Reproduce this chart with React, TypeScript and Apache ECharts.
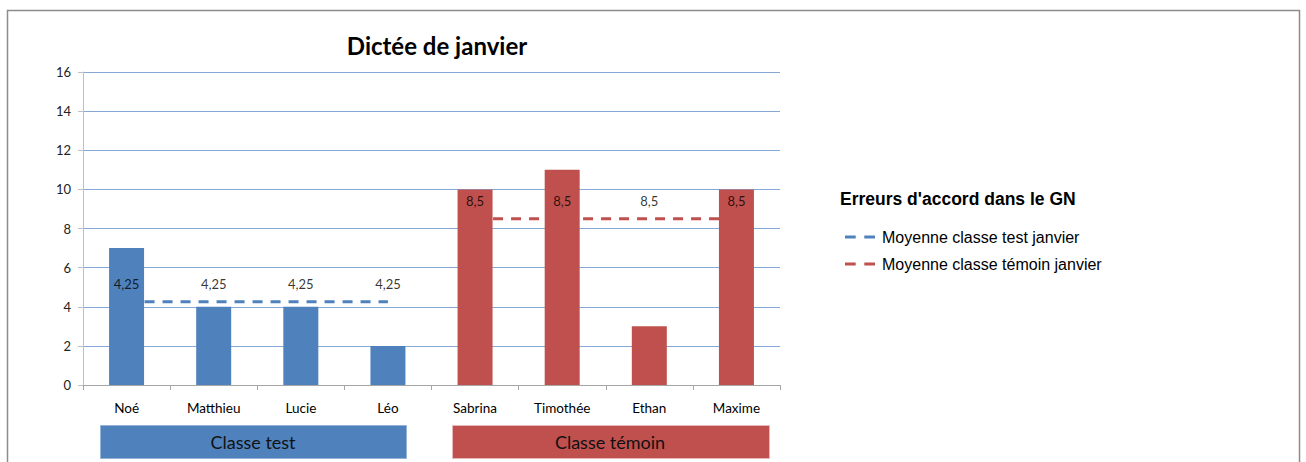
import React, { useEffect, useRef } from "react";
import * as echarts from "echarts";

const categories = ["Noé", "Matthieu", "Lucie", "Léo", "Sabrina", "Timothée", "Ethan", "Maxime"];
const errors = [7, 4, 4, 2, 10, 11, 3, 10];
const groupOf = ["test", "test", "test", "test", "temoin", "temoin", "temoin", "temoin"];
const avgTest = [4.25, 4.25, 4.25, 4.25, null, null, null, null];
const avgTemoin = [null, null, null, null, 8.5, 8.5, 8.5, 8.5];
const yTicks = { min: 0, max: 16, interval: 2 };

const BLUE = "#4F81BD";
const RED = "#C0504D";
const CAL = "Lato, 'Open Sans', sans-serif";
const ARIAL = "'Liberation Sans', Arial, sans-serif";
const DASH_ICON = "path://M0 0H10V3H0Z M18 0H28V3H18Z";

const fmt = (v: number) => String(v).replace(".", ",");

export default function App() {
  const ref = useRef<HTMLDivElement>(null);
  useEffect(() => {
    if (!ref.current) return;
    const chart = echarts.init(ref.current, null, { renderer: "svg" });
    const toData = (arr: (number | null)[]) => arr.map((v) => (v === null ? "-" : v));
    const labelCfg = {
      show: true,
      position: "top",
      distance: 11,
      formatter: (p: any) => fmt(p.value),
      fontFamily: CAL,
      fontSize: 13,
      color: "#000",
    };
    chart.setOption({
      animation: false,
      backgroundColor: "#ffffff",
      title: {
        text: "Dictée de janvier",
        left: 432,
        top: 28,
        textAlign: "center",
        textStyle: { fontFamily: CAL, fontSize: 24, fontWeight: "bold", color: "#000" },
      },
      grid: { left: 83, right: 526, top: 72, bottom: 77, containLabel: false },
      legend: {
        left: 840,
        top: 224,
        orient: "vertical",
        itemWidth: 30,
        itemHeight: 3,
        itemGap: 11,
        symbolKeepAspect: false,
        data: [
          { name: "Moyenne classe test janvier", icon: DASH_ICON },
          { name: "Moyenne classe témoin janvier", icon: DASH_ICON },
        ],
        textStyle: { fontFamily: ARIAL, fontSize: 16, color: "#000", padding: [0, 0, 0, 2] },
      },
      xAxis: {
        type: "category",
        data: categories,
        axisLine: { lineStyle: { color: "#a6a6a6", width: 1 } },
        axisTick: { show: true, length: 5, lineStyle: { color: "#a6a6a6" } },
        axisLabel: { fontFamily: CAL, fontSize: 13.5, color: "#000", margin: 16 },
        splitLine: { show: false },
      },
      yAxis: {
        type: "value",
        min: yTicks.min,
        max: yTicks.max,
        interval: yTicks.interval,
        axisLine: { show: true, lineStyle: { color: "#bfbfbf" } },
        axisTick: { show: true, length: 5, lineStyle: { color: "#bfbfbf" } },
        axisLabel: { fontFamily: CAL, fontSize: 13, color: "#222", margin: 12 },
        splitLine: { show: true, lineStyle: { color: "#86a8d6", width: 1 } },
      },
      series: [
        {
          name: "Erreurs d'accord dans le GN",
          type: "bar",
          z: 3,
          barWidth: 35,
          data: errors.map((v, i) => ({
            value: v,
            itemStyle: { color: groupOf[i] === "test" ? BLUE : RED },
          })),
        },
        {
          name: "Moyenne classe test janvier",
          type: "line",
          z: 2,
          symbol: "none",
          showSymbol: false,
          data: toData(avgTest),
          lineStyle: { color: BLUE, width: 3, type: [10, 8] },
          itemStyle: { color: BLUE },
        },
        {
          name: "Moyenne classe témoin janvier",
          type: "line",
          z: 2,
          symbol: "none",
          showSymbol: false,
          data: toData(avgTemoin),
          lineStyle: { color: RED, width: 3, type: [10, 8] },
          itemStyle: { color: RED },
        },
        {
          name: "labels-test",
          type: "scatter",
          z: 5,
          symbolSize: 0,
          data: toData(avgTest),
          label: labelCfg,
        },
        {
          name: "labels-temoin",
          type: "scatter",
          z: 5,
          symbolSize: 0,
          data: toData(avgTemoin),
          label: labelCfg,
        },
      ],
      graphic: [
        {
          type: "rect",
          shape: { x: 7.5, y: 10.5, width: 1292, height: 480 },
          style: { fill: "none", stroke: "#8c8c8c", lineWidth: 1.5 },
          silent: true,
        },
        {
          type: "text",
          left: 840,
          top: 190,
          style: {
            text: "Erreurs d'accord dans le GN",
            font: "bold 17.5px 'Liberation Sans', Arial, sans-serif",
            fill: "#000",
          },
        },
        {
          type: "rect",
          shape: { x: 100.5, y: 425.5, width: 306, height: 33 },
          style: { fill: BLUE, stroke: "#95b3d7", lineWidth: 1 },
        },
        {
          type: "text",
          x: 253,
          y: 442,
          style: {
            text: "Classe test",
            font: "18px Lato, 'Open Sans', sans-serif",
            fill: "#111",
            textAlign: "center",
            textVerticalAlign: "middle",
          },
        },
        {
          type: "rect",
          shape: { x: 452.5, y: 425.5, width: 317, height: 33 },
          style: { fill: RED, stroke: "#e6b9b8", lineWidth: 1 },
        },
        {
          type: "text",
          x: 610,
          y: 442,
          style: {
            text: "Classe témoin",
            font: "18px Lato, 'Open Sans', sans-serif",
            fill: "#111",
            textAlign: "center",
            textVerticalAlign: "middle",
          },
        },
      ],
    });
    return () => chart.dispose();
  }, []);
  return (
    <div
      ref={ref}
      style={{ position: "absolute", left: 0, top: 0, width: 1306, height: 462 }}
    />
  );
}
